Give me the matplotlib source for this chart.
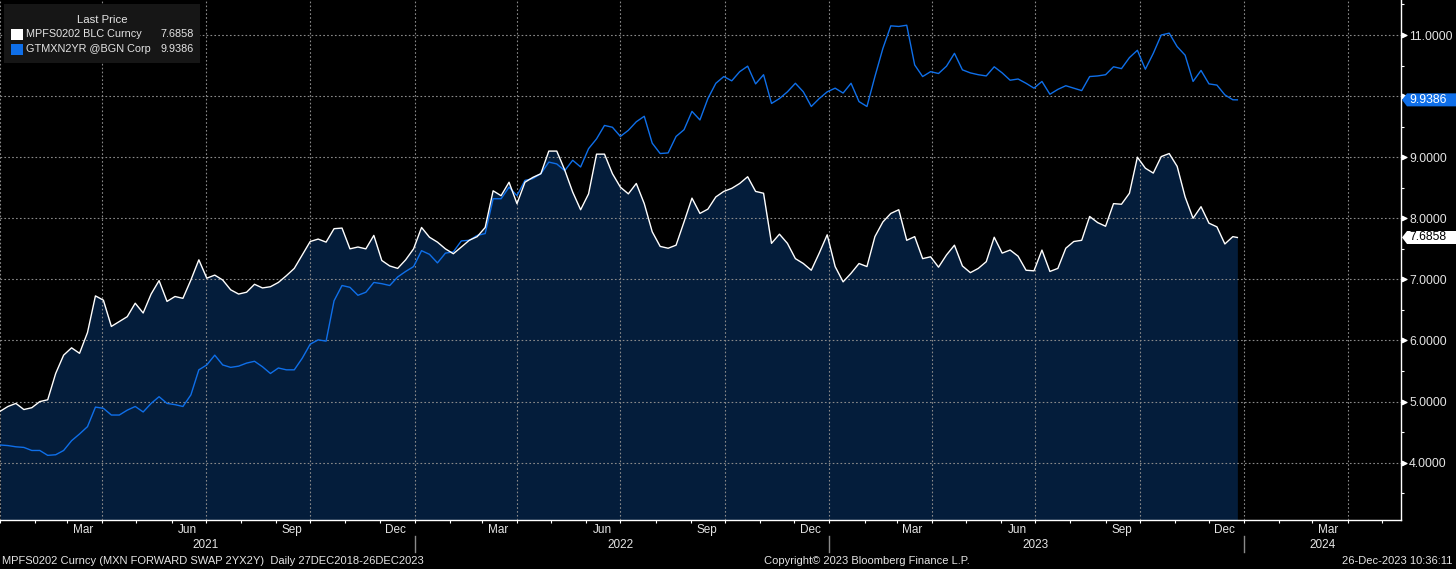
import numpy as np
import pandas as pd
import matplotlib
matplotlib.use('Agg')
import matplotlib.pyplot as plt
import matplotlib.dates as mdates
import matplotlib.transforms as mtransforms
from matplotlib.patches import Polygon, Rectangle
from matplotlib.ticker import FixedLocator, FuncFormatter

# weekly readings, Jan 2021 - Dec 2023, plus last print
dates = list(pd.date_range('2021-01-01', periods=156, freq='7D')) + [pd.Timestamp('2023-12-26')]

mpfs = [4.84, 4.92, 4.97, 4.87, 4.90, 5.00, 5.03, 5.46, 5.76, 5.88,
        5.79, 6.13, 6.73, 6.66, 6.23, 6.31, 6.39, 6.61, 6.45, 6.76,
        6.98, 6.64, 6.72, 6.69, 6.99, 7.32, 7.02, 7.07, 6.99, 6.83,
        6.76, 6.79, 6.92, 6.86, 6.88, 6.95, 7.06, 7.18, 7.40, 7.62,
        7.66, 7.61, 7.83, 7.84, 7.50, 7.53, 7.50, 7.72, 7.31, 7.22,
        7.18, 7.32, 7.50, 7.85, 7.69, 7.61, 7.50, 7.42, 7.53, 7.64,
        7.70, 7.85, 8.45, 8.37, 8.59, 8.24, 8.59, 8.67, 8.73, 9.10,
        9.10, 8.79, 8.43, 8.14, 8.40, 9.05, 9.05, 8.73, 8.51, 8.40,
        8.57, 8.24, 7.78, 7.54, 7.51, 7.56, 7.94, 8.33, 8.08, 8.15,
        8.35, 8.44, 8.49, 8.57, 8.68, 8.44, 8.41, 7.59, 7.74, 7.59,
        7.34, 7.26, 7.15, 7.43, 7.73, 7.21, 6.96, 7.10, 7.26, 7.21,
        7.70, 7.94, 8.08, 8.14, 7.64, 7.70, 7.34, 7.37, 7.20, 7.40,
        7.56, 7.22, 7.11, 7.18, 7.29, 7.69, 7.43, 7.48, 7.38, 7.15,
        7.14, 7.48, 7.13, 7.18, 7.51, 7.62, 7.64, 8.03, 7.93, 7.87,
        8.24, 8.23, 8.41, 9.00, 8.82, 8.74, 9.01, 9.06, 8.85, 8.35,
        8.00, 8.19, 7.92, 7.86, 7.58, 7.70, 7.6858]

gtmxn = [4.29, 4.28, 4.26, 4.25, 4.20, 4.20, 4.12, 4.13, 4.20, 4.36,
         4.47, 4.59, 4.91, 4.89, 4.78, 4.78, 4.86, 4.92, 4.83, 4.97,
         5.08, 4.97, 4.95, 4.92, 5.11, 5.52, 5.60, 5.76, 5.60, 5.56,
         5.58, 5.63, 5.66, 5.57, 5.46, 5.55, 5.52, 5.52, 5.71, 5.94,
         6.01, 5.99, 6.65, 6.90, 6.87, 6.74, 6.79, 6.95, 6.93, 6.90,
         7.04, 7.13, 7.21, 7.47, 7.41, 7.27, 7.43, 7.45, 7.63, 7.64,
         7.72, 7.75, 8.32, 8.32, 8.51, 8.37, 8.62, 8.65, 8.73, 8.92,
         8.89, 8.78, 8.95, 8.84, 9.14, 9.30, 9.52, 9.49, 9.34, 9.44,
         9.58, 9.67, 9.23, 9.06, 9.07, 9.34, 9.45, 9.75, 9.61, 9.96,
         10.21, 10.32, 10.25, 10.40, 10.49, 10.20, 10.35, 9.88, 9.96, 10.07,
         10.21, 10.07, 9.83, 9.96, 10.07, 10.13, 10.05, 10.21, 9.91, 9.83,
         10.32, 10.78, 11.15, 11.14, 11.16, 10.51, 10.32, 10.40, 10.37, 10.49,
         10.70, 10.43, 10.38, 10.35, 10.33, 10.48, 10.38, 10.26, 10.28, 10.21,
         10.13, 10.24, 10.03, 10.11, 10.17, 10.13, 10.09, 10.32, 10.33, 10.35,
         10.48, 10.45, 10.63, 10.75, 10.44, 10.70, 11.00, 11.03, 10.81, 10.67,
         10.24, 10.42, 10.20, 10.18, 10.02, 9.94, 9.9386]

last_mpfs = 7.6858
last_gtmxn = 9.9386
names = ['MPFS0202 BLC Curncy', 'GTMXN2YR @BGN Corp']
month_names = {3: 'Mar', 6: 'Jun', 9: 'Sep', 12: 'Dec'}
years = [2021, 2022, 2023, 2024]
yticks = [4, 5, 6, 7, 8, 9, 10, 11]

W, H = 1456, 569
WHITE = 'white'
BLUE = '#0f6fe9'
FILL = '#041d3b'
GRID = '#8a8a8a'
TXT = '#e4e4e4'

plt.rcParams['font.family'] = ['Liberation Sans', 'DejaVu Sans']

fig = plt.figure(figsize=(W / 100, H / 100), dpi=100, facecolor='black')
ax = fig.add_axes([0, 1 - 520 / H, 1401 / W, 520 / H])
ax.set_facecolor('black')

xmin, xmax = pd.Timestamp('2021-01-01'), pd.Timestamp('2024-05-18')
ax.fill_between(dates, mpfs, 0, color=FILL, lw=0, zorder=1)
ax.plot(dates, gtmxn, color=BLUE, lw=1.0, zorder=3)
ax.plot(dates, mpfs, color=WHITE, lw=1.0, zorder=4)
ax.set_xlim(xmin, xmax)
ax.set_ylim(3.062, 11.573)

# axes / grid
ax.xaxis.set_major_locator(mdates.MonthLocator(bymonth=[1, 4, 7, 10]))
ax.xaxis.set_minor_locator(mdates.MonthLocator())
ax.yaxis.tick_right()
ax.yaxis.set_major_locator(FixedLocator(yticks))
ax.yaxis.set_minor_locator(FixedLocator([v + 0.5 for v in range(3, 12)]))
ax.yaxis.set_major_formatter(FuncFormatter(
    lambda v, p: '' if min(abs(v - last_gtmxn), abs(v - last_mpfs)) < 0.2 else f'{v:.4f}'))
ax.grid(True, which='major', color=GRID, linestyle=(0, (1.5, 2)), lw=0.8, zorder=2)
ax.set_axisbelow(False)
ax.tick_params(axis='x', which='both', length=2.2, width=0.8, color=WHITE,
               direction='out', labelbottom=False)
ax.tick_params(axis='y', which='major', length=4.3, width=0.8, color=WHITE,
               labelcolor=TXT, labelsize=8.8, pad=1.5, direction='out')
ax.tick_params(axis='y', which='minor', length=2.0, width=0.8, color=WHITE, direction='out')
for s in ['left', 'top']:
    ax.spines[s].set_visible(False)
for s in ['right', 'bottom']:
    ax.spines[s].set_color(WHITE)
    ax.spines[s].set_linewidth(1.0)

# little arrow heads on the price axis
tr = mtransforms.blended_transform_factory(ax.transAxes, ax.transData)
tr_arrow = mtransforms.offset_copy(tr, fig=fig, x=3, y=0, units='dots')
ax.plot([1] * len(yticks), yticks, ls='none', marker='>', ms=3.2, color=WHITE,
        transform=tr_arrow, clip_on=False, zorder=5)

# month / year labels under the axis
trx = mtransforms.blended_transform_factory(ax.transData, ax.transAxes)
for yr in years:
    for m, lab in month_names.items():
        d = pd.Timestamp(yr, m, 15)
        if xmin <= d <= xmax:
            ax.text(d, -10 / 520, lab, transform=trx, ha='center', va='center',
                    color=TXT, fontsize=8.5)
for yr in years:
    if yr < 2024:
        mid = pd.Timestamp(yr, 7, 1)
    else:
        mid = pd.Timestamp(2024, 1, 1) + (xmax - pd.Timestamp(2024, 1, 1)) / 2
    ax.text(mid, -25 / 520, str(yr), transform=trx, ha='center', va='center',
            color=TXT, fontsize=8.5)
    if yr > 2021:
        ax.plot([pd.Timestamp(yr, 1, 1)] * 2, [-16 / 520, -32 / 520], color=GRID,
                lw=1.0, transform=trx, clip_on=False)

# last price tags on the right
ident = mtransforms.IdentityTransform()
x0 = ax.bbox.x1
for val, bg, fg in [(last_gtmxn, BLUE, WHITE), (last_mpfs, WHITE, 'black')]:
    yc = ax.transData.transform((0, val))[1]
    hh = 6.5
    tag = Polygon([[x0 + 1, yc], [x0 + 6, yc + hh], [W, yc + hh], [W, yc - hh], [x0 + 6, yc - hh]],
                  closed=True, facecolor=bg, edgecolor='none', transform=ident, zorder=10)
    fig.add_artist(tag)
    fig.text(x0 + 8, yc, f'{val:.4f}', transform=ident, ha='left', va='center',
             color=fg, fontsize=8.8, zorder=11)

# legend box
def px(x, y):
    return x / W, 1 - y / H

LFS = 7.8
fig.add_artist(Rectangle(px(4, 63), 196 / W, 59 / H, transform=fig.transFigure,
                         facecolor='#161616', edgecolor='none', zorder=9))
fig.text(*px(102, 20), 'Last Price', ha='center', va='center', color=TXT, fontsize=LFS + 0.4, zorder=10)
for i, (nm, val, col) in enumerate(zip(names, [last_mpfs, last_gtmxn], [WHITE, BLUE])):
    yrow = 34 + 15 * i
    fig.add_artist(Rectangle(px(11, yrow + 5.5), 12 / W, 11 / H, transform=fig.transFigure,
                             facecolor=col, edgecolor='none', zorder=10))
    fig.text(*px(26, yrow), nm, ha='left', va='center', color=TXT, fontsize=LFS, zorder=10)
    fig.text(*px(194, yrow), f'{val:.4f}', ha='right', va='center', color=TXT, fontsize=LFS, zorder=10)

# footer
FFS = 8
fig.text(*px(2, 561), 'MPFS0202 Curncy (MXN FORWARD SWAP 2YX2Y)  Daily 27DEC2018-26DEC2023',
         ha='left', va='center', color=TXT, fontsize=FFS)
fig.text(*px(867, 561), 'Copyright\u00a9 2023 Bloomberg Finance L.P.',
         ha='center', va='center', color=TXT, fontsize=FFS)
fig.text(*px(1452, 561), '26-Dec-2023 10:36:11', ha='right', va='center', color=TXT, fontsize=FFS)

fig.savefig('out.png', dpi=100, facecolor='black')
